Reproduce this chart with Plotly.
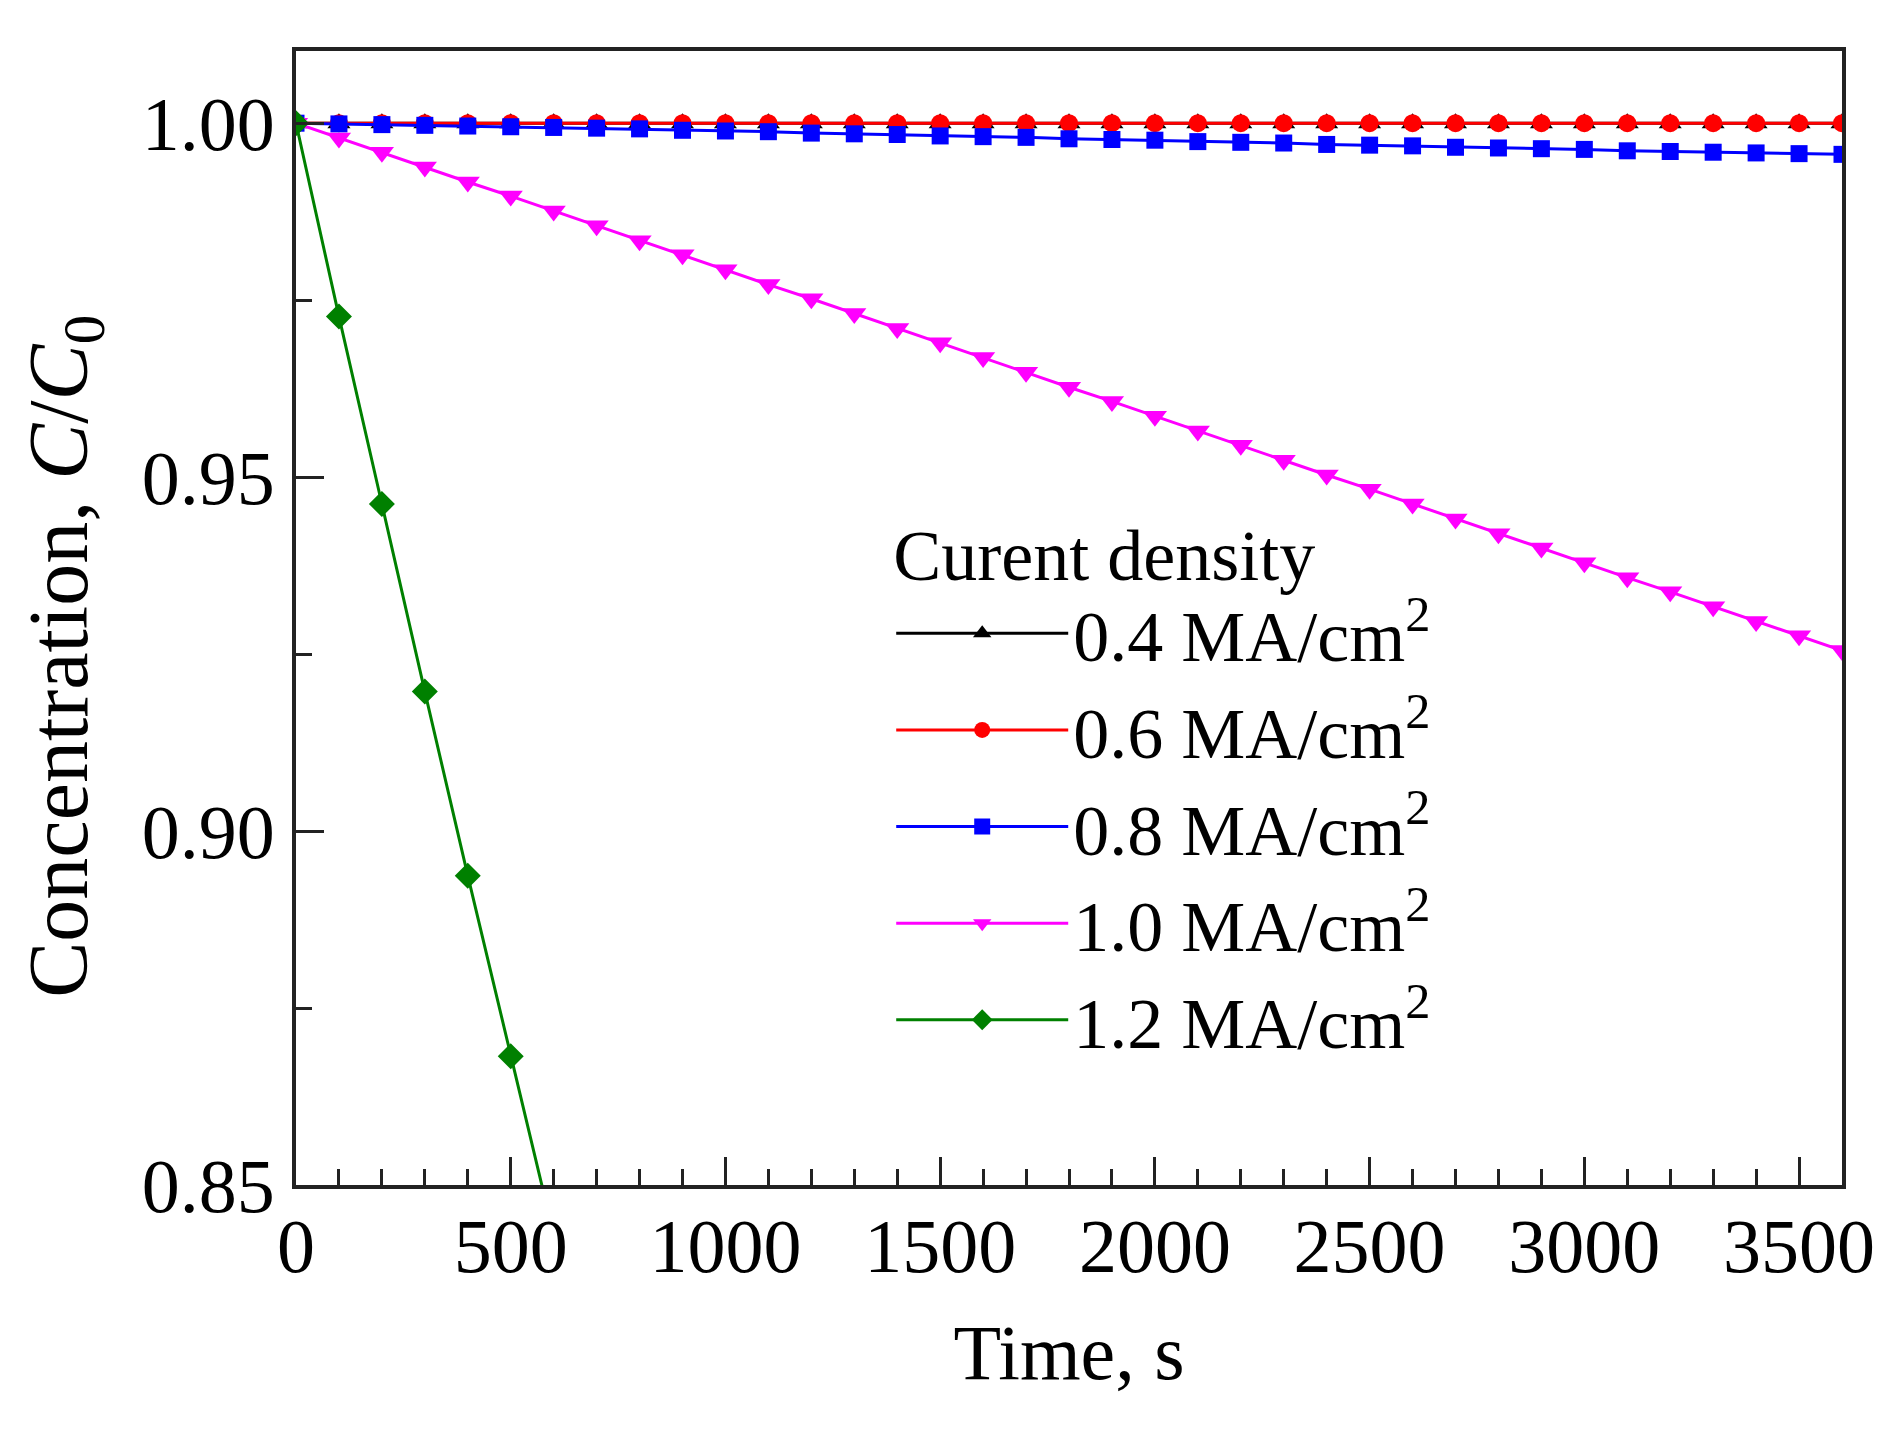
# Concentration decay C/C0 vs time for several current densities.
import plotly.graph_objects as go

# time points, s
time_s = [0, 100, 200, 300, 400, 500, 600, 700, 800, 900, 1000, 1100, 1200,
          1300, 1400, 1500, 1600, 1700, 1800, 1900, 2000, 2100, 2200, 2300,
          2400, 2500, 2600, 2700, 2800, 2900, 3000, 3100, 3200, 3300, 3400,
          3500, 3600]

# C/C0
c_04 = [1.0000] * 37
c_06 = [1.0000] * 37
c_08 = [1.0000, 0.9999, 0.9998, 0.9997, 0.9996, 0.9995, 0.9994, 0.9993,
        0.9992, 0.9990, 0.9989, 0.9988, 0.9986, 0.9985, 0.9984, 0.9982,
        0.9981, 0.9980, 0.9978, 0.9977, 0.9976, 0.9974, 0.9973, 0.9972,
        0.9970, 0.9969, 0.9968, 0.9966, 0.9965, 0.9964, 0.9963, 0.9961,
        0.9960, 0.9959, 0.9958, 0.9957, 0.9956]
c_10 = [1.0000, 0.9979, 0.9959, 0.9938, 0.9917, 0.9897, 0.9876, 0.9855,
        0.9834, 0.9814, 0.9793, 0.9772, 0.9752, 0.9731, 0.9710, 0.9690,
        0.9669, 0.9648, 0.9627, 0.9607, 0.9586, 0.9565, 0.9545, 0.9524,
        0.9503, 0.9483, 0.9462, 0.9441, 0.9420, 0.9400, 0.9379, 0.9358,
        0.9338, 0.9317, 0.9296, 0.9276, 0.9255]
# 1.2 MA/cm2 leaves the plotted range after ~565 s
time_12 = [0, 100, 200, 300, 400, 500, 600]
c_12 = [1.0000, 0.9727, 0.9462, 0.9197, 0.8937, 0.8682, 0.8430]

labels = ["0.4 MA/cm<sup>2</sup>", "0.6 MA/cm<sup>2</sup>", "0.8 MA/cm<sup>2</sup>",
          "1.0 MA/cm<sup>2</sup>", "1.2 MA/cm<sup>2</sup>"]

FONT = "Liberation Serif, Times New Roman, serif"

series = [
    (time_s, c_04, labels[0], "black", "triangle-up", 20),
    (time_s, c_06, labels[1], "#ff0000", "circle", 18),
    (time_s, c_08, labels[2], "#0000ff", "square", 17),
    (time_s, c_10, labels[3], "#ff00ff", "triangle-down", 21),
    (time_12, c_12, labels[4], "#008000", "diamond", 20),
]

fig = go.Figure()
for x, y, name, color, symbol, size in series:
    fig.add_trace(go.Scatter(
        x=x, y=y, name=name, mode="lines+markers",
        line=dict(color=color, width=3),
        marker=dict(symbol=symbol, size=size, color=color),
    ))

axis_common = dict(
    showline=True, linecolor="#222222", linewidth=4, mirror=True,
    showgrid=False, zeroline=False,
    ticks="inside", ticklen=28, tickwidth=3, tickcolor="#222222",
    tickfont=dict(family=FONT, size=76, color="black"),
)

fig.update_layout(
    width=1899, height=1433,
    margin=dict(l=288, r=65, t=43, b=256),
    paper_bgcolor="white", plot_bgcolor="white",
    font=dict(family=FONT, size=76, color="black"),
    xaxis=dict(
        range=[0, 3600], dtick=500, tick0=0,
        minor=dict(dtick=100, ticks="inside", ticklen=16, tickwidth=3,
                   tickcolor="#222222", showgrid=False),
        title=dict(text="Time, s", font=dict(family=FONT, size=78), standoff=38),
        ticklabelstandoff=-8,
        **axis_common,
    ),
    yaxis=dict(
        range=[0.85, 1.0102], dtick=0.05, tick0=0.85, tickformat=".2f",
        minor=dict(dtick=0.025, ticks="inside", ticklen=16, tickwidth=3,
                   tickcolor="#222222", showgrid=False),
        ticklabelstandoff=2,
        **axis_common,
    ),
    legend=dict(
        x=0.385, y=0.616, xanchor="left", yanchor="top",
        bgcolor="rgba(0,0,0,0)",
        font=dict(family=FONT, size=72),
        title=dict(text="Curent density", font=dict(family=FONT, size=72)),
        itemwidth=172,
        tracegroupgap=0,
    ),
    annotations=[dict(
        text="Concentration, <i>C</i>/<i>C</i><sub>0</sub>",
        xref="paper", yref="paper", x=-0.150, y=0.466,
        xanchor="center", yanchor="middle", textangle=-90,
        showarrow=False, font=dict(family=FONT, size=84),
    )],
)

fig.write_html("out.html")
